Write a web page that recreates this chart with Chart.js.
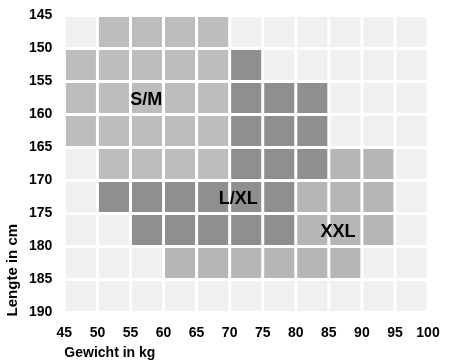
<!DOCTYPE html>
<html>
<head>
<meta charset="utf-8">
<script src="https://cdn.jsdelivr.net/npm/chart.js@4"></script>
<style>
  body { margin: 0; background: #fff; }
  #wrap { width: 457px; height: 362px; }
</style>
</head>
<body>
<div id="wrap"><canvas id="sizeChart"></canvas></div>
<script>
// weight columns (kg) and height rows (cm), lower edge of each 5-wide cell
var weights = [45, 50, 55, 60, 65, 70, 75, 80, 85, 90, 95];
var heights = [145, 150, 155, 160, 165, 170, 175, 180, 185];

// size per cell, one string per height row: S = S/M, L = L/XL, X = XXL, . = none
var sizeGrid = [
  '.SSSS......',
  'SSSSSL.....',
  'SSSSSLLL...',
  'SSSSSLLL...',
  '.SSSSLLLXX.',
  '.LLLLLLXXX.',
  '..LLLLLXXX.',
  '...XXXXXX..',
  '...........'
];

var sizeKeys = ['.', 'S', 'L', 'X'];
var sizeNames = ['', 'S/M', 'L/XL', 'XXL'];
var sizeColors = ['#f0f0f0', '#bdbdbd', '#8f8f8f', '#b6b6b6'];

// where the size names are written (kg, cm)
var sizeLabels = [
  { text: 'S/M', x: 57.4, y: 157.8 },
  { text: 'L/XL', x: 71.3, y: 172.8 },
  { text: 'XXL', x: 86.4, y: 177.8 }
];

var yTitle = 'Lengte in cm';

function cellsFor(key) {
  var pts = [];
  sizeGrid.forEach(function (row, r) {
    row.split('').forEach(function (c, i) {
      if (c === key) pts.push({ x: weights[i] + 2.5, y: heights[r] + 2.5 });
    });
  });
  return pts;
}

function cellRadius(ctx) {
  var s = ctx.chart.scales.x;
  if (!s) return 15;
  var side = Math.abs(s.getPixelForValue(5) - s.getPixelForValue(0)) - 3;
  return side / Math.SQRT2;
}

var datasets = sizeKeys.map(function (k, i) {
  return {
    label: sizeNames[i],
    data: cellsFor(k),
    backgroundColor: sizeColors[i],
    borderWidth: 0,
    pointStyle: 'rect',
    pointRadius: cellRadius,
    pointHoverRadius: cellRadius
  };
});

var fontFamily = '"Liberation Sans", Arial, sans-serif';

var labelPlugin = {
  id: 'sizeLabels',
  afterDatasetsDraw: function (chart) {
    var c = chart.ctx;
    c.save();
    c.font = 'bold 18px ' + fontFamily;
    c.fillStyle = '#000';
    c.textAlign = 'center';
    c.textBaseline = 'middle';
    sizeLabels.forEach(function (l) {
      c.fillText(l.text, chart.scales.x.getPixelForValue(l.x), chart.scales.y.getPixelForValue(l.y));
    });
    // y axis title, written upward from the bottom of the plot
    c.font = 'bold 15px ' + fontFamily;
    c.translate(13, chart.chartArea.bottom + 4);
    c.rotate(-Math.PI / 2);
    c.textAlign = 'left';
    c.fillText(yTitle, 0, 0);
    c.restore();
  }
};

var tickFont = { family: fontFamily, size: 14, weight: 'bold' };

var ctx = document.getElementById('sizeChart').getContext('2d');
var chart = new Chart(ctx, {
  type: 'scatter',
  data: { datasets: datasets },
  plugins: [labelPlugin],
  options: {
    responsive: true,
    maintainAspectRatio: false,
    animation: false,
    events: [],
    layout: { padding: { top: 0, right: 29, bottom: 0, left: 17 } },
    plugins: { legend: { display: false }, tooltip: { enabled: false } },
    scales: {
      x: {
        type: 'linear',
        min: 45, max: 100,
        grid: { display: false, drawTicks: false },
        border: { display: false },
        ticks: { stepSize: 5, color: '#000', font: tickFont, padding: 12 },
        title: { display: true, text: 'Gewicht in kg', align: 'start', color: '#000', font: tickFont, padding: { top: -8, bottom: 0 } }
      },
      y: {
        type: 'linear',
        min: 145, max: 190,
        reverse: true,
        grid: { display: false, drawTicks: false },
        border: { display: false },
        ticks: { stepSize: 5, color: '#000', font: { family: fontFamily, size: 14, weight: 'bold', lineHeight: 0.5 }, padding: 12 }
      }
    }
  }
});
</script>
</body>
</html>
